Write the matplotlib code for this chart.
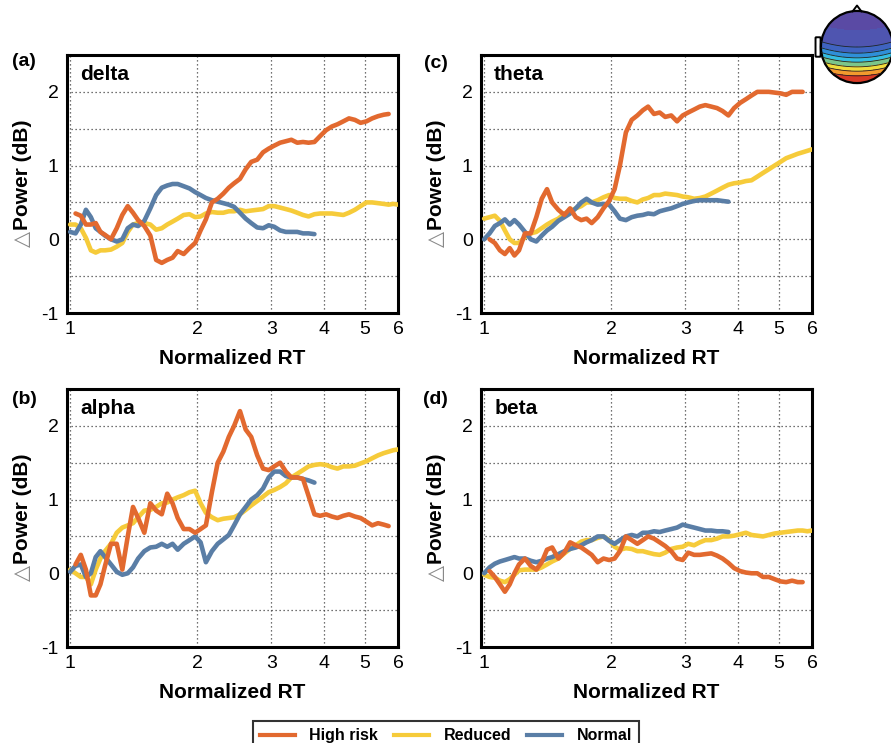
import numpy as np
import matplotlib
matplotlib.use("Agg")
import matplotlib.pyplot as plt
from matplotlib.ticker import FixedLocator, FixedFormatter, NullLocator
from matplotlib.patches import Circle, FancyBboxPatch
from matplotlib.lines import Line2D

plt.rcParams['font.family'] = ['Liberation Sans', 'DejaVu Sans']

# ---------------- data (Normalized RT sample points) ----------------
rt = [1.00, 1.03, 1.06, 1.09, 1.12, 1.15, 1.18, 1.21, 1.25, 1.29,
      1.33, 1.37, 1.41, 1.45, 1.50, 1.55, 1.60, 1.65, 1.70, 1.75,
      1.80, 1.86, 1.92, 1.98, 2.04, 2.10, 2.17, 2.24, 2.31, 2.38,
      2.45, 2.53, 2.61, 2.69, 2.78, 2.87, 2.96, 3.05, 3.15, 3.25,
      3.35, 3.46, 3.57, 3.68, 3.80, 3.92, 4.05, 4.18, 4.31, 4.45,
      4.59, 4.74, 4.89, 5.05, 5.21, 5.38, 5.55, 5.70, 5.85, 6.00]

groups = ["High risk", "Reduced", "Normal"]
colors = ["#E2692F", "#F6CB3A", "#5A7EA6"]
start_index = [1, 0, 0]   # first rt sample of each group

delta_high = [0.35, 0.32, 0.20, 0.20, 0.22, 0.10, 0.06, 0.00, 0.15, 0.33,
              0.45, 0.36, 0.26, 0.18, 0.05, -0.28, -0.32, -0.28, -0.25, -0.16,
              -0.20, -0.12, -0.05, 0.12, 0.27, 0.50, 0.55, 0.62, 0.70, 0.76,
              0.82, 0.95, 1.05, 1.08, 1.18, 1.23, 1.27, 1.31, 1.33, 1.35,
              1.31, 1.32, 1.31, 1.32, 1.40, 1.48, 1.53, 1.56, 1.60, 1.64,
              1.62, 1.58, 1.60, 1.64, 1.67, 1.69, 1.70]
delta_reduced = [0.20, 0.20, 0.15, 0.02, -0.15, -0.18, -0.15, -0.15, -0.14, -0.10,
                 -0.05, 0.10, 0.20, 0.22, 0.22, 0.20, 0.13, 0.15, 0.20, 0.24,
                 0.28, 0.33, 0.34, 0.30, 0.31, 0.35, 0.37, 0.36, 0.36, 0.38,
                 0.38, 0.40, 0.38, 0.39, 0.40, 0.41, 0.45, 0.45, 0.43, 0.41,
                 0.39, 0.36, 0.33, 0.31, 0.34, 0.35, 0.35, 0.35, 0.34, 0.33,
                 0.36, 0.40, 0.45, 0.50, 0.50, 0.49, 0.48, 0.47, 0.48, 0.47]
delta_normal = [0.10, 0.08, 0.20, 0.40, 0.30, 0.15, 0.10, 0.05, 0.00, -0.03,
                0.00, 0.15, 0.20, 0.18, 0.25, 0.42, 0.60, 0.70, 0.73, 0.75,
                0.75, 0.72, 0.69, 0.64, 0.60, 0.56, 0.53, 0.51, 0.49, 0.47,
                0.44, 0.36, 0.28, 0.22, 0.16, 0.15, 0.19, 0.17, 0.12, 0.10,
                0.10, 0.10, 0.08, 0.08, 0.07]

theta_high = [0.00, -0.05, -0.15, -0.20, -0.12, -0.22, -0.15, 0.08, 0.08, 0.30,
              0.55, 0.68, 0.50, 0.40, 0.33, 0.42, 0.30, 0.26, 0.28, 0.22,
              0.30, 0.42, 0.52, 0.68, 1.00, 1.45, 1.62, 1.68, 1.75, 1.80,
              1.70, 1.72, 1.66, 1.68, 1.60, 1.68, 1.72, 1.76, 1.80, 1.82,
              1.80, 1.78, 1.74, 1.68, 1.78, 1.85, 1.90, 1.95, 2.00, 2.00,
              2.00, 1.99, 1.98, 1.96, 2.00, 2.00, 2.00]
theta_reduced = [0.28, 0.30, 0.32, 0.25, 0.12, 0.00, -0.05, -0.05, 0.03, 0.08,
                 0.10, 0.15, 0.20, 0.24, 0.28, 0.35, 0.38, 0.42, 0.45, 0.50,
                 0.50, 0.53, 0.57, 0.60, 0.56, 0.55, 0.55, 0.52, 0.50, 0.54,
                 0.56, 0.60, 0.60, 0.62, 0.61, 0.60, 0.58, 0.57, 0.55, 0.56,
                 0.58, 0.62, 0.66, 0.70, 0.74, 0.76, 0.77, 0.79, 0.80, 0.85,
                 0.90, 0.95, 1.00, 1.05, 1.10, 1.13, 1.16, 1.18, 1.20, 1.22]
theta_normal = [0.00, 0.08, 0.18, 0.22, 0.27, 0.20, 0.26, 0.20, 0.10, 0.00,
                -0.03, 0.05, 0.12, 0.17, 0.25, 0.30, 0.35, 0.42, 0.50, 0.55,
                0.50, 0.47, 0.48, 0.47, 0.38, 0.28, 0.26, 0.30, 0.32, 0.33,
                0.35, 0.34, 0.38, 0.40, 0.42, 0.45, 0.48, 0.50, 0.52, 0.53,
                0.53, 0.53, 0.53, 0.52, 0.51]

alpha_high = [0.12, 0.25, 0.05, -0.30, -0.30, -0.15, 0.10, 0.40, 0.40, 0.05,
              0.50, 0.90, 0.75, 0.55, 0.95, 0.85, 0.80, 1.08, 0.95, 0.75,
              0.60, 0.60, 0.55, 0.60, 0.65, 1.10, 1.50, 1.65, 1.85, 2.00,
              2.20, 1.95, 1.85, 1.60, 1.42, 1.40, 1.45, 1.50, 1.38, 1.30,
              1.30, 1.28, 1.05, 0.80, 0.78, 0.80, 0.77, 0.75, 0.78, 0.80,
              0.77, 0.75, 0.70, 0.65, 0.68, 0.66, 0.64]
alpha_reduced = [0.05, 0.00, -0.05, -0.05, -0.15, 0.05, 0.20, 0.30, 0.40, 0.55,
                 0.62, 0.65, 0.68, 0.76, 0.85, 0.86, 0.90, 0.95, 0.96, 1.00,
                 1.03, 1.06, 1.10, 1.12, 0.95, 0.82, 0.76, 0.72, 0.74, 0.75,
                 0.76, 0.80, 0.86, 0.92, 0.98, 1.04, 1.10, 1.13, 1.17, 1.22,
                 1.30, 1.35, 1.40, 1.45, 1.47, 1.48, 1.47, 1.44, 1.42, 1.45,
                 1.45, 1.46, 1.49, 1.52, 1.56, 1.60, 1.63, 1.65, 1.67, 1.68]
alpha_normal = [0.02, 0.10, 0.12, -0.05, 0.00, 0.22, 0.30, 0.22, 0.12, 0.02,
                -0.02, 0.00, 0.08, 0.20, 0.30, 0.35, 0.36, 0.40, 0.36, 0.40,
                0.32, 0.40, 0.45, 0.50, 0.42, 0.15, 0.30, 0.40, 0.46, 0.52,
                0.65, 0.80, 0.90, 1.00, 1.06, 1.15, 1.30, 1.38, 1.38, 1.32,
                1.30, 1.30, 1.28, 1.26, 1.23]

beta_high = [0.03, -0.05, -0.15, -0.25, -0.15, 0.00, 0.12, 0.20, 0.10, 0.05,
             0.15, 0.32, 0.35, 0.20, 0.28, 0.42, 0.38, 0.35, 0.30, 0.25,
             0.15, 0.20, 0.18, 0.20, 0.30, 0.50, 0.45, 0.40, 0.45, 0.50,
             0.47, 0.42, 0.37, 0.30, 0.20, 0.18, 0.28, 0.25, 0.25, 0.26,
             0.27, 0.24, 0.20, 0.14, 0.07, 0.03, 0.01, 0.00, 0.00, -0.05,
             -0.05, -0.08, -0.11, -0.12, -0.10, -0.12, -0.12]
beta_reduced = [-0.02, -0.05, -0.06, -0.10, -0.12, -0.08, -0.02, 0.04, 0.05, 0.05,
                0.05, 0.08, 0.12, 0.16, 0.20, 0.27, 0.33, 0.38, 0.43, 0.45,
                0.45, 0.48, 0.50, 0.45, 0.36, 0.32, 0.34, 0.33, 0.30, 0.30,
                0.28, 0.26, 0.25, 0.28, 0.33, 0.35, 0.36, 0.40, 0.38, 0.42,
                0.45, 0.45, 0.47, 0.50, 0.50, 0.51, 0.53, 0.55, 0.52, 0.51,
                0.50, 0.52, 0.54, 0.55, 0.56, 0.57, 0.58, 0.58, 0.57, 0.58]
beta_normal = [0.00, 0.08, 0.13, 0.16, 0.18, 0.20, 0.22, 0.20, 0.20, 0.17,
               0.15, 0.17, 0.20, 0.22, 0.26, 0.30, 0.33, 0.35, 0.38, 0.42,
               0.45, 0.50, 0.50, 0.44, 0.40, 0.45, 0.50, 0.52, 0.50, 0.55,
               0.55, 0.57, 0.56, 0.58, 0.60, 0.62, 0.66, 0.64, 0.62, 0.60,
               0.58, 0.58, 0.57, 0.57, 0.56]

panels = [
    ("(a)", "delta", [delta_high, delta_reduced, delta_normal]),
    ("(c)", "theta", [theta_high, theta_reduced, theta_normal]),
    ("(b)", "alpha", [alpha_high, alpha_reduced, alpha_normal]),
    ("(d)", "beta", [beta_high, beta_reduced, beta_normal]),
]

x_ticks = [1, 2, 3, 4, 5, 6]
y_ticks = [-1, 0, 1, 2]
y_grid = [-0.5, 0.5, 1.5]

# ---------------- figure ----------------
W, H = 891, 743
fig = plt.figure(figsize=(W / 100, H / 100), dpi=100)

rects = [(67, 55), (481, 55), (67, 389), (481, 389)]  # left, top in px
aw, ah = 331, 258
label_pos = [(24, 62), (436, 63), (24, 400), (435, 399)]

draw_order = [1, 2, 0]
for (plab, band, series), (lx, ty), (px, py) in zip(panels, rects, label_pos):
    ax = fig.add_axes([lx / W, 1 - (ty + ah) / H, aw / W, ah / H])
    ax.set_xscale('log')
    ax.set_xlim(0.983, 6.0)
    ax.set_ylim(-1, 2.5)
    ax.xaxis.set_major_locator(FixedLocator(x_ticks))
    ax.xaxis.set_major_formatter(FixedFormatter([str(t) for t in x_ticks]))
    ax.xaxis.set_minor_locator(NullLocator())
    ax.yaxis.set_major_locator(FixedLocator(y_ticks))
    ax.yaxis.set_major_formatter(FixedFormatter([str(t) for t in y_ticks]))
    ax.yaxis.set_minor_locator(FixedLocator(y_grid))
    ax.tick_params(which='both', length=0, labelsize=14, pad=6)
    ax.grid(True, which='both', color='#444444', linestyle=(0, (1, 2.2)), linewidth=0.9)
    ax.set_axisbelow(True)
    for s in ax.spines.values():
        s.set_linewidth(2.2)
        s.set_color('black')
    for gi in draw_order:
        y = series[gi]
        st = start_index[gi]
        ax.plot(rt[st:st + len(y)], y, color=colors[gi], lw=3.3,
                solid_capstyle='round', solid_joinstyle='round', zorder=3)
    ax.set_xlabel("Normalized RT", fontsize=15, fontweight='bold', labelpad=8)
    ax.text(-0.135, 0.535, "Power (dB)", transform=ax.transAxes, rotation=90,
            ha='center', va='center', fontsize=15, fontweight='bold')
    ax.text(-0.135, 0.285, "\u25B3", transform=ax.transAxes, rotation=90,
            ha='center', va='center', fontsize=15, color='#888888',
            family=['DejaVu Sans'])
    ax.text(0.04, 0.925, band, transform=ax.transAxes, ha='left', va='center',
            fontsize=15, fontweight='bold')
    fig.text(px / W, 1 - py / H, plab, ha='center', va='center',
             fontsize=14, fontweight='bold')

# ---------------- legend ----------------
handles = [Line2D([], [], color=c, lw=3) for c in colors]
leg = fig.legend(handles, groups, loc='upper center',
                 bbox_to_anchor=(446 / W, 1 - 713 / H), ncol=3,
                 frameon=True, fancybox=False, edgecolor='black',
                 prop={'weight': 'bold', 'size': 11.5},
                 handlelength=2.2, handletextpad=0.9, columnspacing=1.0,
                 borderpad=0.45)
leg.get_frame().set_linewidth(1.5)

# ---------------- scalp map decoration ----------------
hx, hy = 857, 47
axh = fig.add_axes([(hx - 48) / W, 1 - (hy + 44) / H, 96 / W, 88 / H])
axh.set_xlim(-1.33, 1.33)
axh.set_ylim(-1.22, 1.22)
axh.set_aspect('equal')
axh.axis('off')
g = np.linspace(-1.05, 1.05, 300)
GX, GY = np.meshgrid(g, g)
field = -GY + 0.15 * GX ** 2
lev = [-3, -0.45, 0.0, 0.17, 0.3, 0.42, 0.55, 0.67, 0.8, 3]
band_colors = ['#5a4aa4', '#4f55b0', '#3f63c0', '#2f8fd8', '#35bde0',
               '#7cc68a', '#f0dc3c', '#f29a2e', '#d83a26']
cs = axh.contourf(GX, GY, field, levels=lev, colors=band_colors)
cl = axh.contour(GX, GY, field, levels=lev[2:-1], colors='#222222', linewidths=0.6)
clip = Circle((0, 0), 1.0, transform=axh.transData)
cs.set_clip_path(clip)
cl.set_clip_path(clip)
axh.add_patch(Circle((0, 0), 1.0, fill=False, lw=1.6, color='black'))
axh.plot([-0.12, 0.0, 0.12], [0.99, 1.15, 0.99], color='black', lw=1.4)
axh.add_patch(FancyBboxPatch((-1.13, -0.25), 0.1, 0.5, boxstyle='round,pad=0.02',
                             fill=False, lw=1.4, color='black'))

fig.savefig("out.png", dpi=100)
